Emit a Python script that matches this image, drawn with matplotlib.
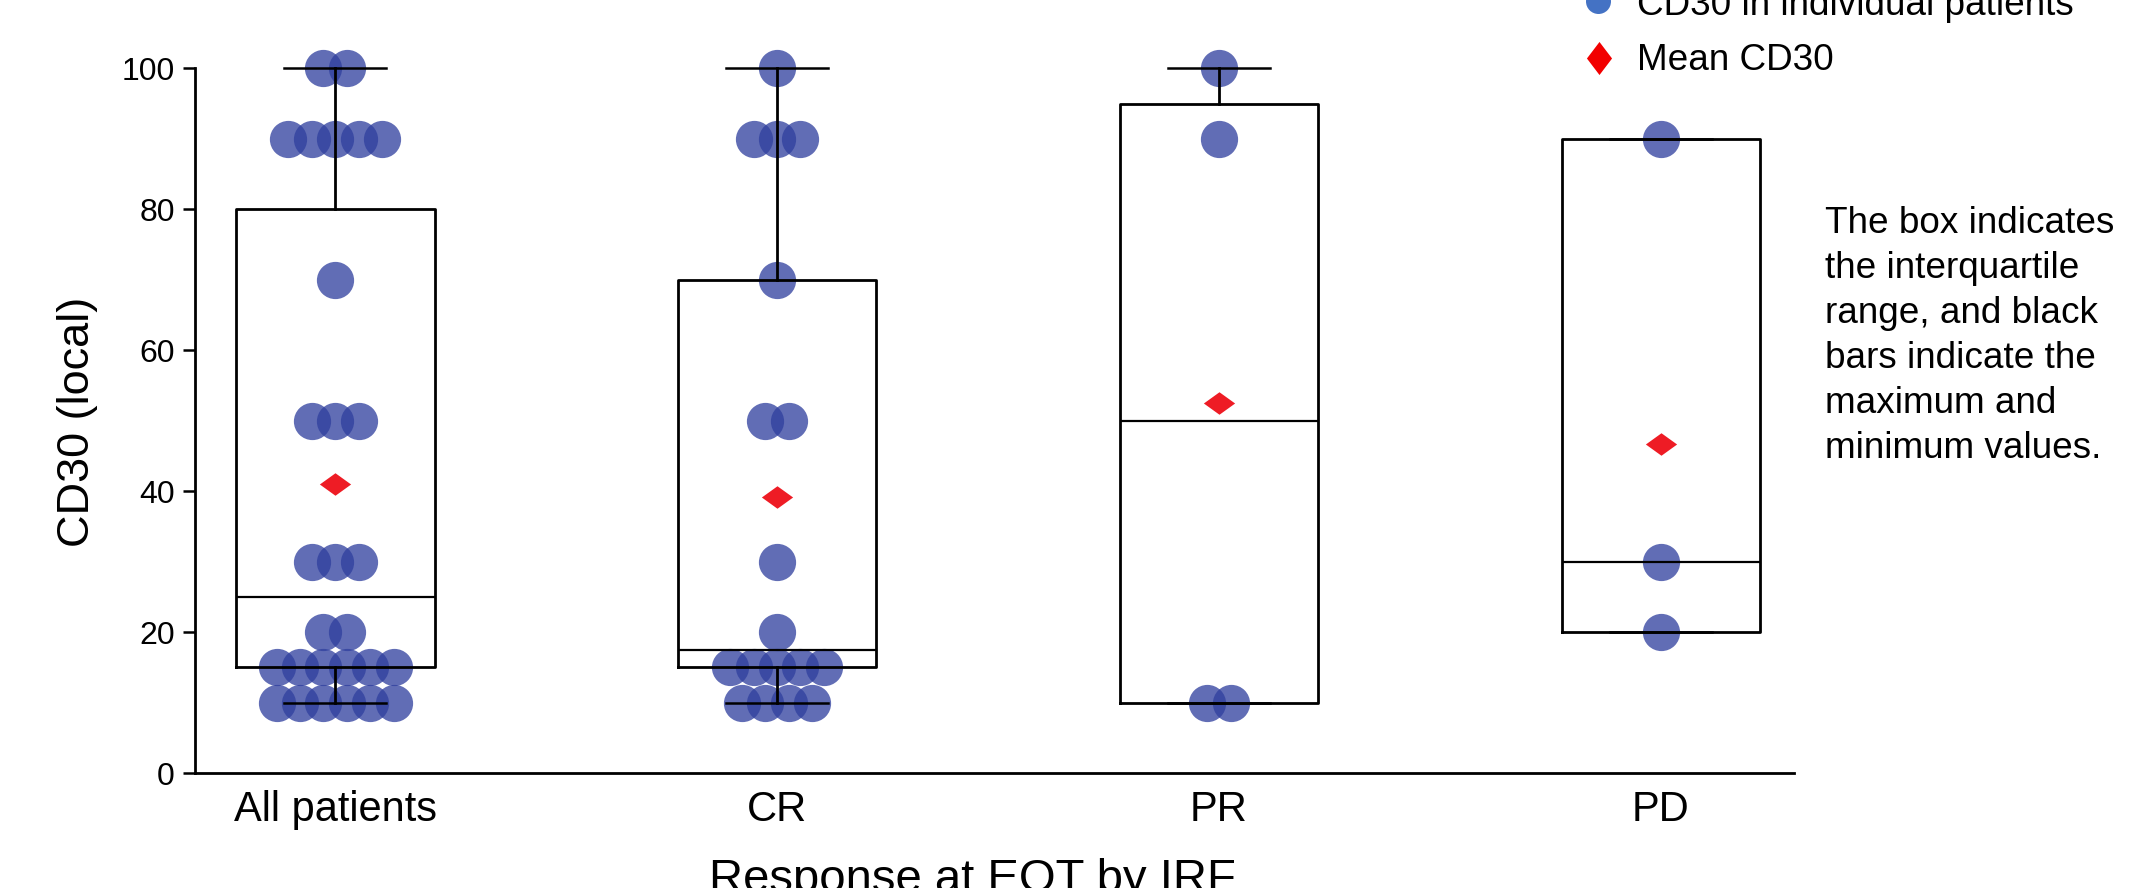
import numpy as np
import matplotlib
matplotlib.use("Agg")
import matplotlib.pyplot as plt
from matplotlib.path import Path

plt.rcParams['font.family'] = ['Liberation Sans', 'DejaVu Sans']

# ---------------- data ----------------
categories = ["All patients", "CR", "PR", "PD"]
all_patients = [100, 100, 90, 90, 90, 90, 90, 70, 50, 50, 50, 30, 30, 30, 20, 20,
                15, 15, 15, 15, 15, 15, 10, 10, 10, 10, 10, 10]
cr_values = [100, 90, 90, 90, 70, 50, 50, 30, 20, 15, 15, 15, 15, 15, 10, 10, 10, 10]
pr_values = [100, 90, 10, 10]
pd_values = [90, 30, 20]
groups = [all_patients, cr_values, pr_values, pd_values]

box_q1 = [15, 15, 10, 20]
box_median = [25, 17.5, 50, 30]
box_q3 = [80, 70, 95, 90]
whisker_low = [10, 10, 10, 20]
whisker_high = [100, 100, 100, 90]
y_ticks = [0, 20, 40, 60, 80, 100]

legend_labels = ["CD30 in individual patients", "Mean CD30"]
note_text = ("The box indicates\nthe interquartile\nrange, and black\n"
             "bars indicate the\nmaximum and\nminimum values.")
x_title = "Response at EOT by IRF"
y_title = "CD30 (local)"

# ---------------- figure ----------------
W, H = 2153, 888
fig = plt.figure(figsize=(W / 100, H / 100), dpi=100)
ax = fig.add_axes([195 / W, 1 - 773 / H, (1794 - 195) / W, (773 - 68.5) / H])

positions = np.arange(len(categories))
ax.set_xlim(-0.317, 3.301)
ax.set_ylim(0, 100)

# beeswarm-like points
spacing = 0.053
point_color = '#2F3F9E'
for pos, vals in zip(positions, groups):
    vals = np.asarray(vals)
    xs, ys = [], []
    for v in sorted(set(vals.tolist()), reverse=True):
        n = int(np.sum(vals == v))
        offs = (np.arange(n) - (n - 1) / 2) * spacing
        xs.extend(pos + offs)
        ys.extend([v] * n)
    ax.plot(xs, ys, 'o', ms=26.8, color=point_color, alpha=0.76, mec='none',
            clip_on=False, zorder=2)

# boxes
stats = [dict(med=m, q1=a, q3=b, whislo=lo, whishi=hi, fliers=[], label=c)
         for c, a, m, b, lo, hi in zip(categories, box_q1, box_median, box_q3,
                                       whisker_low, whisker_high)]
art = ax.bxp(stats, positions=positions, widths=0.45, showfliers=False,
             showcaps=True, capwidths=0.23, manage_ticks=False,
             boxprops=dict(color='black', linewidth=2.0),
             whiskerprops=dict(color='black', linewidth=2.0),
             capprops=dict(color='black', linewidth=1.8),
             medianprops=dict(color='black', linewidth=1.6),
             zorder=3)
for key in art:
    for a in art[key]:
        a.set_clip_on(False)

# means
means = [np.mean(g) for g in groups]
wide_diamond = Path([(0, 0.36), (0.5, 0), (0, -0.36), (-0.5, 0), (0, 0.36)],
                    [Path.MOVETO, Path.LINETO, Path.LINETO, Path.LINETO, Path.CLOSEPOLY])
ax.plot(positions, means, linestyle='none', marker=wide_diamond, ms=22.5,
        color='#EE1C25', mec='none', zorder=4, clip_on=False)

# axes styling
for s in ['top', 'right']:
    ax.spines[s].set_visible(False)
for s in ['left', 'bottom']:
    ax.spines[s].set_linewidth(2.0)
ax.set_yticks(y_ticks)
ax.set_xticks(positions)
ax.set_xticklabels(categories)
ax.tick_params(axis='y', length=8.6, width=1.8, labelsize=23, pad=5.8)
ax.tick_params(axis='x', length=0, labelsize=30, pad=12)

# titles
fig.text(972 / W, 1 - 892 / H, x_title, fontsize=34, ha='center', va='baseline')
fig.text(78 / W, 1 - 422 / H, y_title, fontsize=32.5, rotation=90,
         ha='center', va='center')

# overlay in pixel coordinates for legend + note
ov = fig.add_axes([0, 0, 1, 1], zorder=5)
ov.set_xlim(0, W)
ov.set_ylim(H, 0)
ov.axis('off')
ov.patch.set_alpha(0)
ov.plot([1598], [1], 'o', ms=18, color='#4472C4', mec='none', clip_on=False)
tall_diamond = Path([(0, 0.5), (0.38, 0), (0, -0.5), (-0.38, 0), (0, 0.5)],
                    [Path.MOVETO, Path.LINETO, Path.LINETO, Path.LINETO, Path.CLOSEPOLY])
ov.plot([1599], [58], linestyle='none', marker=tall_diamond, ms=23.8,
        color='#F20000', mec='none', clip_on=False)
ov.text(1637, 15, legend_labels[0], fontsize=26.6, ha='left', va='baseline')
ov.text(1637, 70, legend_labels[1], fontsize=26.6, ha='left', va='baseline')
ov.text(1825, 206, note_text, fontsize=26.6, ha='left', va='top', linespacing=1.37)

fig.savefig('out.png', dpi=100)
